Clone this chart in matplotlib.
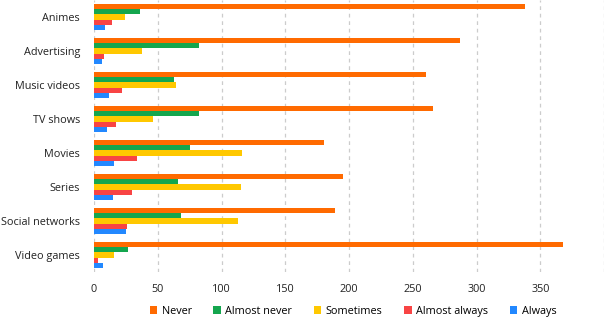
import matplotlib
matplotlib.use("Agg")
import matplotlib.pyplot as plt
import numpy as np

categories = ["Animes", "Advertising", "Music videos", "TV shows", "Movies",
              "Series", "Social networks", "Video games"]
series_names = ["Never", "Almost never", "Sometimes", "Almost always", "Always"]
never = [338, 287, 260, 266, 180, 195, 189, 368]
almost_never = [36, 82, 63, 82, 75, 66, 68, 27]
sometimes = [24, 38, 64, 46, 116, 115, 113, 16]
almost_always = [14, 8, 22, 17, 34, 30, 26, 3]
always = [9, 6, 12, 10, 16, 15, 25, 7]
x_ticks = [0, 50, 100, 150, 200, 250, 300, 350]

values = [never, almost_never, sometimes, almost_always, always]
colors = ["#FF6A00", "#14A64E", "#FFC800", "#F84444", "#2288FF"]

plt.rcParams['font.family'] = ['Open Sans', 'DejaVu Sans']

fig = plt.figure(figsize=(6.04, 3.22), dpi=100)
ax = fig.add_axes([94/604, 50/322, (604-94)/604, 272/322])

y = np.arange(len(categories))
h = 0.156
for i, (name, vals, c) in enumerate(zip(series_names, values, colors)):
    off = (i - 2) * h
    ax.barh(y + off, vals, height=h * 0.95, color=c, label=name, zorder=3)

ax.set_ylim(len(categories) - 0.5, -0.5)
ax.set_xlim(0, 400)
ax.set_yticks(y)
ax.set_yticklabels(categories, fontsize=7.8, color="#222222")
ax.set_xticks(x_ticks)
ax.set_xticklabels([str(t) for t in x_ticks], fontsize=7.8, color="#222222")
for gx in [0, 50, 100, 150, 200, 250, 300, 350, 400]:
    ax.axvline(gx, color="#cccccc", linestyle=(0, (3, 3)), linewidth=0.9, zorder=1)
for s in ax.spines.values():
    s.set_visible(False)
ax.tick_params(axis='both', length=0)
ax.tick_params(axis='y', pad=10)
ax.tick_params(axis='x', pad=9)

fig.legend(loc="lower center", bbox_to_anchor=(353/604, -0.015), ncol=5,
           frameon=False, fontsize=7.8, handlelength=0.7, handleheight=0.7,
           columnspacing=2.0, handletextpad=0.4)

fig.savefig("out.png", dpi=100)
